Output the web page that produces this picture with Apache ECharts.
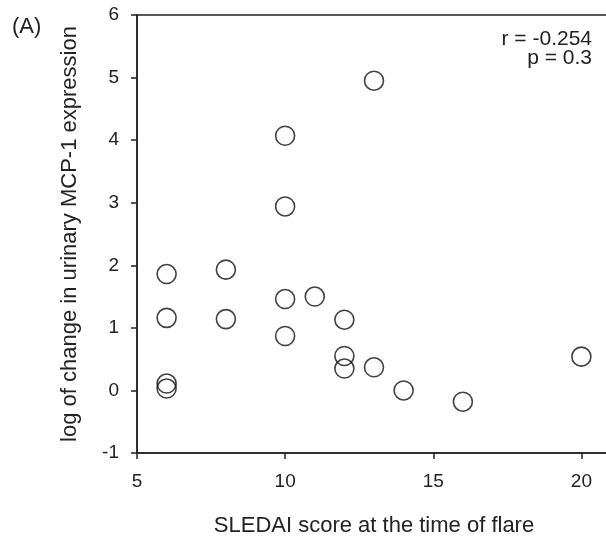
<!DOCTYPE html>
<html>
<head>
<meta charset="utf-8">
<script src="https://cdn.jsdelivr.net/npm/echarts@6/dist/echarts.min.js"></script>
<style>
  html, body { margin: 0; padding: 0; background: #fff; }
  #main { width: 606px; height: 536px; }
</style>
</head>
<body>
<div id="main"></div>
<script>
// SLEDAI score vs log change of urinary MCP-1
var sledai = [6, 6, 6, 6, 8, 8, 10, 10, 10, 10, 11, 12, 12, 12, 13, 13, 14, 16, 20]
var logChange = [1.86, 1.16, 0.11, 0.03, 1.93, 1.14, 4.07, 2.94, 1.46, 0.87, 1.50, 1.13, 0.55, 0.35, 4.95, 0.37, 0.00, -0.18, 0.54]
var xTicks = [5, 10, 15, 20]
var statLines = ['r = -0.254', 'p = 0.3']

var points = sledai.map(function (x, i) { return [x, logChange[i]] })
var font = 'Liberation Sans, Arial, sans-serif'
var ink = '#222'

var chart = echarts.init(document.getElementById('main'))
var option = {
  backgroundColor: '#fff',
  animation: false,
  grid: {
    left: 137,
    top: 15,
    right: -5,
    bottom: 83,
    outerBoundsMode: 'none',
    show: true,
    borderColor: ink,
    borderWidth: 1.5
  },
  xAxis: {
    type: 'value',
    min: 5,
    max: 21,
    interval: 5,
    name: 'SLEDAI score at the time of flare',
    nameLocation: 'middle',
    nameGap: 62,
    nameTextStyle: { fontFamily: font, fontSize: 22, color: ink },
    axisLine: { onZero: false, lineStyle: { color: ink, width: 1.5 } },
    axisTick: { show: true, inside: false, length: 6, lineStyle: { color: ink, width: 1.5 } },
    axisLabel: {
      fontFamily: font, fontSize: 19, color: ink, margin: 19,
      showMaxLabel: false,
      formatter: function (v) { return xTicks.indexOf(v) >= 0 ? String(v) : '' }
    },
    splitLine: { show: false }
  },
  yAxis: {
    type: 'value',
    min: -1,
    max: 6,
    interval: 1,
    name: 'log of change in urinary MCP-1 expression',
    nameLocation: 'middle',
    nameGap: 56,
    nameTextStyle: { fontFamily: font, fontSize: 22, color: ink },
    axisLine: { show: true, onZero: false, lineStyle: { color: ink, width: 1.5 } },
    axisTick: { show: true, inside: false, length: 6, lineStyle: { color: ink, width: 1.5 } },
    axisLabel: { fontFamily: font, fontSize: 19, color: ink, margin: 18 },
    splitLine: { show: false }
  },
  graphic: [
    {
      type: 'text', left: 12, top: 16,
      style: { text: '(A)', font: '22px ' + font, fill: ink }
    },
    {
      type: 'text', x: 592, y: 39,
      style: { text: statLines[0], font: '21px ' + font, fill: ink, align: 'right', verticalAlign: 'middle' }
    },
    {
      type: 'text', x: 592, y: 58,
      style: { text: statLines[1], font: '21px ' + font, fill: ink, align: 'right', verticalAlign: 'middle' }
    }
  ],
  series: [
    {
      type: 'scatter',
      data: points,
      symbol: 'circle',
      symbolSize: 19,
      itemStyle: { color: 'rgba(255,255,255,0)', borderColor: '#111', borderWidth: 1.6 }
    }
  ]
}
chart.setOption(option)
</script>
</body>
</html>
